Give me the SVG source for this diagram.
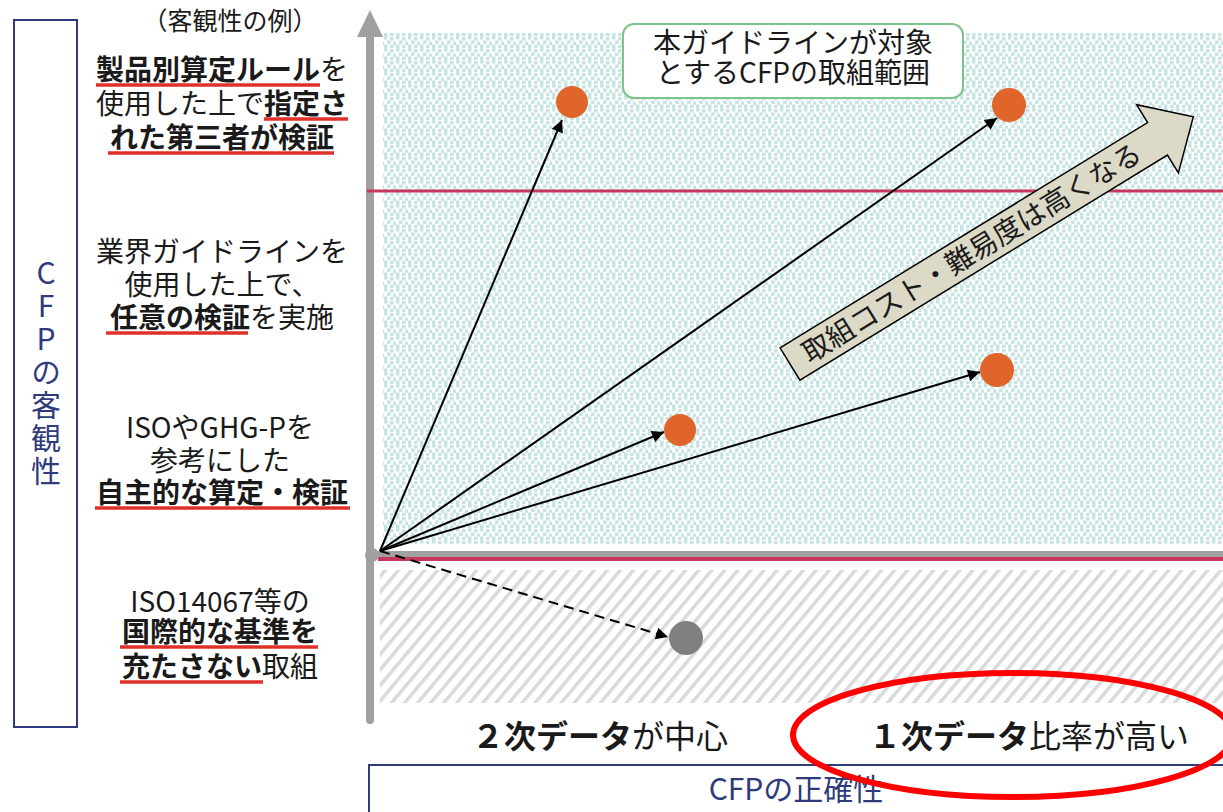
<svg xmlns="http://www.w3.org/2000/svg" width="1223" height="812" viewBox="0 0 1223 812">
<defs>
<style>
text{font-family:"Noto Sans CJK JP","Noto Sans",sans-serif;fill:#1a1a1a}
.t28{font-size:28px}
.b{font-weight:700}
.navy{fill:#2f3b7a}
.ul{stroke:#e0302a;stroke-width:3.5}
.arr{stroke:#000;stroke-width:2;fill:none;marker-end:url(#ah)}
.dot{fill:#e0652a}
</style>
<pattern id="dots" width="12" height="12" patternUnits="userSpaceOnUse">
<rect width="12" height="12" fill="#fff"/>
<rect x="0" y="0" width="3.5" height="3.5" fill="#c6e4e1"/>
<rect x="6" y="1" width="3.5" height="3.5" fill="#c6e4e1"/>
<rect x="3" y="4.5" width="3.5" height="3.5" fill="#c6e4e1"/>
<rect x="9" y="5.5" width="3" height="3.5" fill="#c6e4e1"/>
<rect x="0" y="8.5" width="3.5" height="3.5" fill="#c6e4e1"/>
<rect x="6" y="9" width="3.5" height="3" fill="#c6e4e1"/>
</pattern>
<pattern id="hatch" width="10" height="10" patternUnits="userSpaceOnUse" patternTransform="rotate(40)">
<rect width="10" height="10" fill="#fff"/>
<rect x="0" y="0" width="3.5" height="10" fill="#d9d9d9"/>
</pattern>
<marker id="ah" viewBox="0 0 10 10" refX="10" refY="5" markerWidth="15" markerHeight="12" markerUnits="userSpaceOnUse" orient="auto">
<path d="M0,0 L10,5 L0,10 z" fill="#000"/>
</marker>
</defs>
<rect width="1223" height="812" fill="#fff"/>

<!-- regions -->
<rect x="383" y="33" width="840" height="511" fill="url(#dots)"/>
<rect x="380" y="570" width="843" height="133" fill="url(#hatch)"/>

<!-- axes -->
<g id="axes">
<line x1="370" y1="30" x2="370" y2="720" stroke="#a0a0a0" stroke-width="8" stroke-linecap="round"/>
<path d="M357,37 L370,10 L383,37 z" fill="#a0a0a0"/>
<rect x="370" y="551" width="853" height="6" fill="#a0a0a0"/>
<line x1="378" y1="559" x2="1223" y2="559" stroke="#c8385e" stroke-width="4"/>
<line x1="367" y1="191" x2="1223" y2="191" stroke="#c8385e" stroke-width="3"/>
<circle cx="372" cy="555" r="7" fill="#a0a0a0"/>
</g>

<!-- left box -->
<g id="yaxis-label">
<rect x="14" y="20" width="63" height="707" fill="none" stroke="#2f3b7a" stroke-width="2"/>
<text x="46" y="258" class="navy" font-size="30" writing-mode="vertical-rl" text-orientation="upright" letter-spacing="3" style="writing-mode:vertical-rl;text-orientation:upright">CFPの客観性</text>
</g>

<!-- left labels -->
<g id="labels" text-anchor="middle">
<text x="230" y="30" font-size="25">（客観性の例）</text>
<g id="lvl1">
<text class="t28"><tspan x="222" y="80"><tspan class="b">製品別算定ルール</tspan>を</tspan><tspan x="222" y="114">使用した上で<tspan class="b">指定さ</tspan></tspan><tspan x="222" y="148" class="b">れた第三者が検証</tspan></text>
<line class="ul" x1="96" y1="85" x2="320" y2="85"/>
<line class="ul" x1="264" y1="119" x2="348" y2="119"/>
<line class="ul" x1="108" y1="153" x2="334" y2="153"/>
</g>
<g id="lvl2">
<text class="t28"><tspan x="222" y="262">業界ガイドラインを</tspan><tspan x="222" y="295">使用した上で、</tspan><tspan x="222" y="328"><tspan class="b">任意の検証</tspan>を実施</tspan></text>
<line class="ul" x1="106" y1="333" x2="248" y2="333"/>
</g>
<g id="lvl3">
<text class="t28"><tspan x="220" y="438">ISOやGHG-Pを</tspan><tspan x="220" y="471">参考にした</tspan><tspan x="222" y="503" class="b">自主的な算定・検証</tspan></text>
<line class="ul" x1="95" y1="508" x2="350" y2="508"/>
</g>
<g id="lvl4">
<text class="t28"><tspan x="220" y="612">ISO14067等の</tspan><tspan x="220" y="642" class="b">国際的な基準を</tspan><tspan x="220" y="677"><tspan class="b">充たさない</tspan>取組</tspan></text>
<line class="ul" x1="120" y1="647" x2="318" y2="647"/>
<line class="ul" x1="120" y1="682" x2="263" y2="682"/>
</g>
</g>

<!-- scope box -->
<g id="scope">
<rect x="623" y="24" width="340" height="74" rx="11" fill="#fff" stroke="#7dc48a" stroke-width="2"/>
<text class="t28" text-anchor="middle"><tspan x="793" y="53">本ガイドラインが対象</tspan><tspan x="793" y="83">とするCFPの取組範囲</tspan></text>
</g>

<!-- connectors -->
<g id="connectors">
<line class="arr" x1="380" y1="551" x2="562" y2="120"/>
<line class="arr" x1="380" y1="551" x2="997" y2="118"/>
<line class="arr" x1="380" y1="551" x2="980" y2="372"/>
<line class="arr" x1="380" y1="551" x2="664" y2="432"/>
<line class="arr" x1="380" y1="551" x2="668" y2="637" stroke-dasharray="10,6"/>
</g>

<!-- points -->
<g id="p1"><circle class="dot" cx="572" cy="102" r="16"/></g>
<g id="p2"><circle class="dot" cx="1009" cy="105" r="17"/></g>
<g id="p3"><circle class="dot" cx="997" cy="370" r="17"/></g>
<g id="p4"><circle class="dot" cx="680" cy="430" r="16"/></g>
<g id="p5"><circle cx="686" cy="638" r="17" fill="#808080"/></g>

<!-- big arrow -->
<g id="cost-arrow" transform="translate(790,364) rotate(-31.5)">
<path d="M0,-19 L431,-19 L431,-40 L473,0 L431,40 L431,19 L0,19 z" fill="#dcd9c6" stroke="#000" stroke-width="1.5" stroke-linejoin="miter"/>
<text x="213" y="10" class="t28" text-anchor="middle">取組コスト・難易度は高くなる</text>
</g>

<!-- x labels -->
<g id="xlabels" font-size="32" text-anchor="middle">
<text x="600" y="748"><tspan class="b">２次データ</tspan>が中心</text>
<text x="1029" y="748"><tspan class="b">１次データ</tspan>比率が高い</text>
</g>

<g id="xaxis-label">
<rect x="369" y="765" width="870" height="60" fill="none" stroke="#2f3b7a" stroke-width="2"/>
<text x="796" y="800" font-size="30" text-anchor="middle" class="navy">CFPの正確性</text>
</g>

<ellipse cx="1013" cy="735" rx="220" ry="62" fill="none" stroke="#ff0000" stroke-width="6"/>
</svg>
